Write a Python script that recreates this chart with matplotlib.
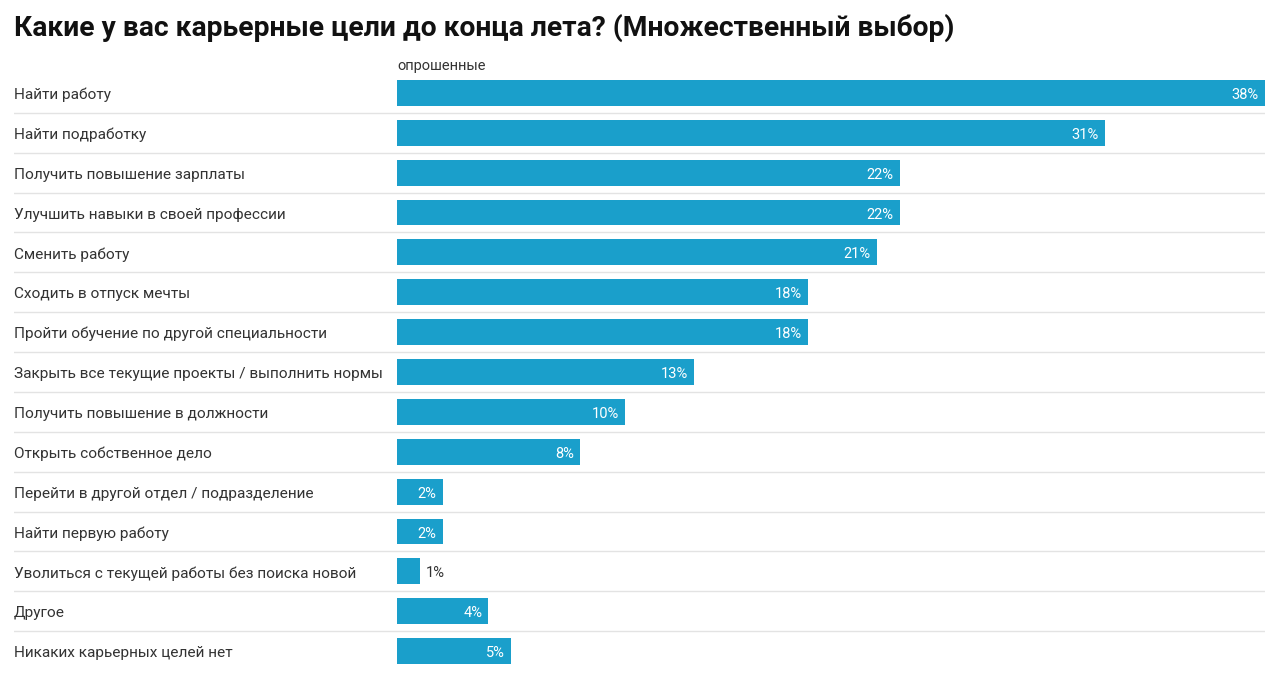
import matplotlib.pyplot as plt
from matplotlib.transforms import ScaledTranslation

plt.rcParams['font.family'] = ['Roboto', 'DejaVu Sans']

title = 'Какие у вас карьерные цели до конца лета? (Множественный выбор)'
series_name = 'опрошенные'
categories = [
    'Найти работу',
    'Найти подработку',
    'Получить повышение зарплаты',
    'Улучшить навыки в своей профессии',
    'Сменить работу',
    'Сходить в отпуск мечты',
    'Пройти обучение по другой специальности',
    'Закрыть все текущие проекты / выполнить нормы',
    'Получить повышение в должности',
    'Открыть собственное дело',
    'Перейти в другой отдел / подразделение',
    'Найти первую работу',
    'Уволиться с текущей работы без поиска новой',
    'Другое',
    'Никаких карьерных целей нет',
]
values = [38, 31, 22, 22, 21, 18, 18, 13, 10, 8, 2, 2, 1, 4, 5]

W, H = 1280, 687
bar_color = '#1a9fcb'
text_color = '#333333'

fig = plt.figure(figsize=(W / 100, H / 100), dpi=100)

# axes span from label column (x=14px) to end of longest bar (x=1265px)
left_px, zero_px, right_px = 14, 397, 1265
top_px, bot_px = 73, 671
ax = fig.add_axes([left_px / W, (H - bot_px) / H,
                   (right_px - left_px) / W, (bot_px - top_px) / H])
scale = (right_px - zero_px) / max(values)
xmin = -(zero_px - left_px) / scale
ax.set_xlim(xmin, max(values))
n = len(categories)
ax.set_ylim(n - 0.5, -0.5)
ax.axis('off')

# nudge text down a little so it sits centred on the bars
down = ax.transData + ScaledTranslation(0, -1.5 / 72, fig.dpi_scale_trans)

ys = list(range(n))
ax.barh(ys, values, height=0.65, color=bar_color, left=0)

for i, (cat, v) in enumerate(zip(categories, values)):
    ax.text(xmin, i, cat, ha='left', va='center', fontsize=11.1,
            color=text_color, transform=down)
    if v > 1:
        ax.text(v - 6 / scale, i, f'{v}%', ha='right', va='center',
                fontsize=10.5, color='white', transform=down)
    else:
        ax.text(v + 6 / scale, i, f'{v}%', ha='left', va='center',
                fontsize=10.5, color=text_color, transform=down)
    if i < n - 1:
        ax.axhline(i + 0.5, color='#e3e3e3', lw=1)

ax.text(0, -0.5, series_name, ha='left', va='bottom', fontsize=10.5,
        color=text_color)

fig.text(14 / W, 1 - 28 / H, title, ha='left', va='center', fontsize=20.3,
         fontweight='bold', color='#111111')

fig.savefig('out.png', dpi=100)
